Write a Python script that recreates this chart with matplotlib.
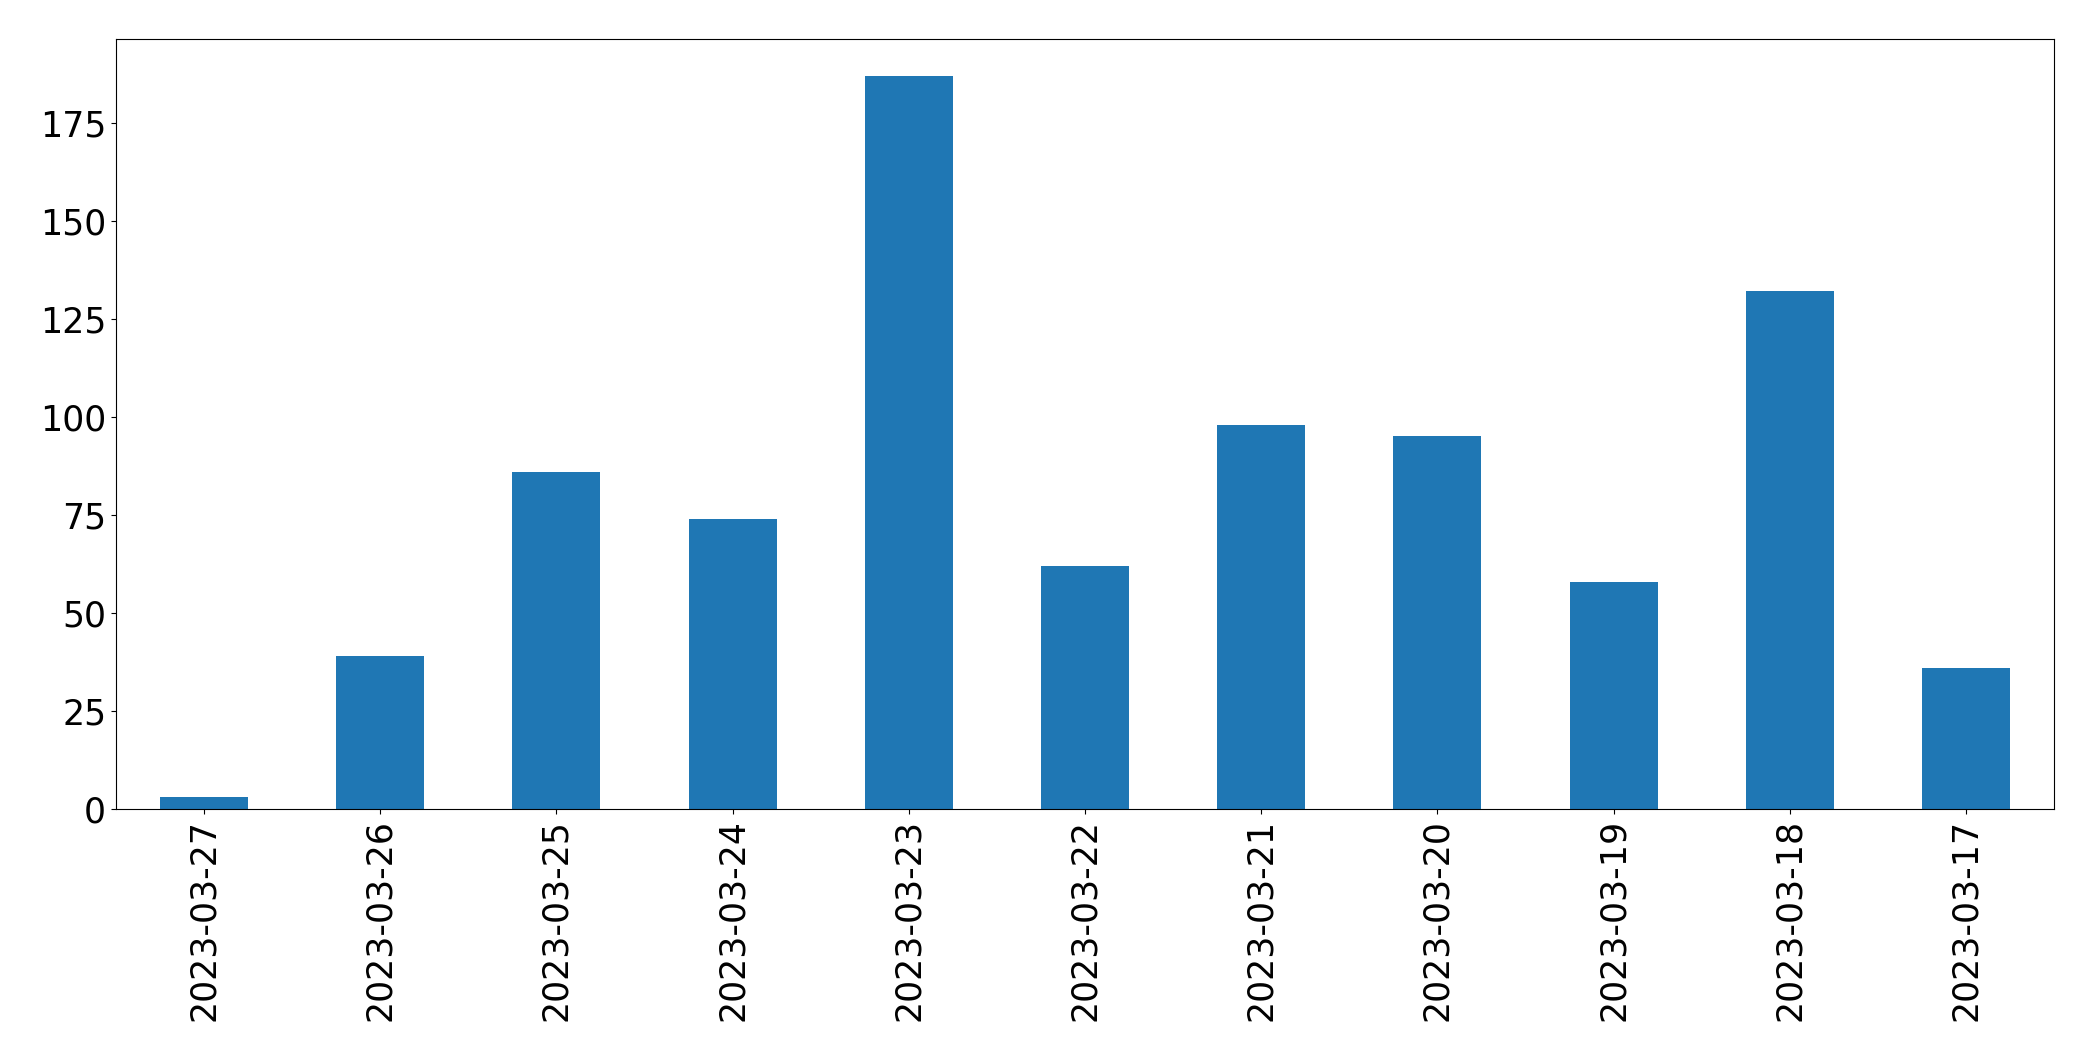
import matplotlib
matplotlib.use("Agg")
import matplotlib.pyplot as plt
import pandas as pd

# daily counts, newest first (as in the source table)
dates = [
    "2023-03-27", "2023-03-26", "2023-03-25", "2023-03-24", "2023-03-23",
    "2023-03-22", "2023-03-21", "2023-03-20", "2023-03-19", "2023-03-18",
    "2023-03-17",
]
counts = [3, 39, 86, 74, 187, 62, 98, 95, 58, 132, 36]

series = pd.Series(counts, index=dates)

fig = plt.figure(figsize=(20.93, 10.61), dpi=100)
ax = fig.add_axes([0.0554, 0.2375, 0.926, 0.7257])

series.plot.bar(ax=ax, color="#1f77b4", fontsize=25)
ax.tick_params(axis="both", labelsize=25)

fig.savefig("out.png", dpi=100)
plt.close(fig)
